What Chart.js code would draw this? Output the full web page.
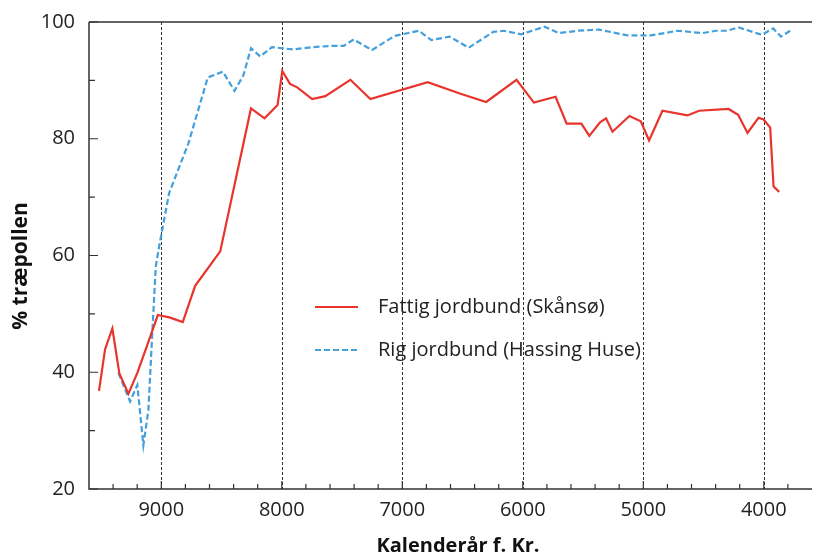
<!DOCTYPE html>
<html>
<head>
<meta charset="utf-8">
<script src="https://cdn.jsdelivr.net/npm/chart.js@4.4.1/dist/chart.umd.min.js"></script>
<style>
  html, body { margin: 0; padding: 0; background: #fff; }
  #chart { display: block; }
</style>
</head>
<body>
<canvas id="chart" width="819" height="555"></canvas>
<script>
// ── Data ──────────────────────────────────────────────────────────
const fattigYears = [9517, 9467, 9406, 9348, 9273, 9199, 9121, 9029, 8933, 8822, 8719, 8511,
  8256, 8143, 8035, 7996, 7932, 7872, 7748, 7639, 7431, 7265, 6789, 6517, 6304, 6052, 5908,
  5728, 5636, 5514, 5448, 5359, 5309, 5256, 5115, 5021, 4952, 4841, 4634, 4537, 4293, 4213,
  4135, 4044, 4002, 3947, 3919, 3872];
const fattigPct = [36.8, 43.9, 47.5, 39.8, 36.3, 39.9, 44.4, 49.8, 49.4, 48.6, 54.8, 60.7,
  85.2, 83.5, 85.8, 91.6, 89.4, 88.8, 86.8, 87.3, 90.1, 86.8, 89.7, 87.7, 86.3, 90.1, 86.2,
  87.2, 82.6, 82.6, 80.5, 82.8, 83.5, 81.2, 83.9, 83.0, 79.7, 84.8, 84.0, 84.8, 85.1, 84.1,
  81.0, 83.6, 83.3, 81.9, 71.8, 70.9];

const rigYears = [9356, 9259, 9199, 9149, 9107, 9079, 9046, 9016, 8935, 8775, 8614, 8489,
  8393, 8318, 8256, 8179, 8082, 7994, 7910, 7736, 7597, 7487, 7404, 7251, 7065, 6863, 6758,
  6608, 6448, 6245, 6157, 6013, 5820, 5700, 5547, 5368, 5132, 4938, 4716, 4508, 4398, 4301,
  4213, 4016, 3922, 3858, 3781];
const rigPct = [39.9, 35.0, 37.8, 27.5, 33.5, 45.0, 58.1, 61.8, 70.7, 79.2, 90.5, 91.5,
  88.2, 90.9, 95.5, 94.1, 95.7, 95.5, 95.3, 95.7, 95.9, 95.9, 97.0, 95.2, 97.6, 98.5, 96.9,
  97.5, 95.6, 98.3, 98.5, 97.9, 99.2, 98.1, 98.5, 98.7, 97.7, 97.7, 98.5, 98.1, 98.5, 98.5,
  99.1, 97.8, 98.9, 97.5, 98.5];

const xTicks = [9000, 8000, 7000, 6000, 5000, 4000];
const xTickLabels = ["9000", "8000", "7000", "6000", "5000", "4000"];
const xMinorTicks = [9400, 9200, 8800, 8600, 8400, 8200, 7800, 7600, 7400, 7200, 6800, 6600,
  6400, 6200, 5800, 5600, 5400, 5200, 4800, 4600, 4400, 4200, 3800];
const yTicks = [20, 40, 60, 80, 100];
const yTickLabels = ["20", "40", "60", "80", "100"];
const yMinorTicks = [30, 50, 70, 90];

const seriesLabels = ["Fattig jordbund (Skånsø)", "Rig jordbund (Hassing Huse)"];
const RED  = "#e8342c";
const BLUE = "#43a0dd";
const INK  = "#222";
const FONT = "'Open Sans', 'Noto Sans', sans-serif";

// ── Axis frame, ticks, dotted year lines, titles and legend ──────
const framePlugin = {
  id: "frame",
  beforeDatasetsDraw(chart) {
    const { ctx, chartArea: a, scales: { x } } = chart;
    ctx.save();
    // dashed vertical year lines
    ctx.strokeStyle = "#333";
    ctx.lineWidth = 1;
    ctx.setLineDash([3, 2]);
    xTicks.forEach(v => {
      const px = Math.round(x.getPixelForValue(v)) + 0.5;
      ctx.beginPath(); ctx.moveTo(px, a.top); ctx.lineTo(px, a.bottom); ctx.stroke();
    });
    ctx.setLineDash([]);
    ctx.restore();
  },
  afterDraw(chart) {
    const { ctx, chartArea: a, scales: { x, y } } = chart;
    ctx.save();
    // axis lines: left, bottom, top
    ctx.strokeStyle = "#333";
    ctx.lineWidth = 1.5;
    ctx.beginPath();
    ctx.moveTo(a.left, a.top); ctx.lineTo(a.left, a.bottom); ctx.lineTo(a.right, a.bottom);
    ctx.moveTo(a.left, a.top); ctx.lineTo(a.right, a.top);
    ctx.stroke();

    // inward tick marks
    ctx.lineWidth = 1.2;
    ctx.beginPath();
    yTicks.forEach(v => { const py = y.getPixelForValue(v); ctx.moveTo(a.left, py); ctx.lineTo(a.left + 9, py); });
    yMinorTicks.forEach(v => { const py = y.getPixelForValue(v); ctx.moveTo(a.left, py); ctx.lineTo(a.left + 6, py); });
    xTicks.forEach(v => { const px = x.getPixelForValue(v); ctx.moveTo(px, a.bottom); ctx.lineTo(px, a.bottom - 8); });
    xMinorTicks.forEach(v => { const px = x.getPixelForValue(v); ctx.moveTo(px, a.bottom); ctx.lineTo(px, a.bottom - 5); });
    ctx.stroke();

    // tick labels
    ctx.fillStyle = INK;
    ctx.font = "20px " + FONT;
    ctx.textAlign = "center";
    ctx.textBaseline = "middle";
    xTicks.forEach((v, i) => ctx.fillText(xTickLabels[i], x.getPixelForValue(v), a.bottom + 21));
    ctx.textAlign = "right";
    yTicks.forEach((v, i) => ctx.fillText(yTickLabels[i], a.left - 14, y.getPixelForValue(v)));

    // axis titles
    ctx.textAlign = "center";
    ctx.fillStyle = "#111";
    ctx.font = "bold 20px " + FONT;
    ctx.fillText("Kalenderår f. Kr.", 458, 546);
    ctx.translate(21, 266);
    ctx.rotate(-Math.PI / 2);
    ctx.font = "bold 21px " + FONT;
    ctx.fillText("% træpollen", 0, 0);
    ctx.setTransform(1, 0, 0, 1, 0, 0);

    // legend inside the plot
    const rows = [
      { label: seriesLabels[0], color: RED, dash: [], y: 307 },
      { label: seriesLabels[1], color: BLUE, dash: [6, 3], y: 350 }
    ];
    ctx.font = "20px " + FONT;
    ctx.textAlign = "left";
    rows.forEach(r => {
      ctx.strokeStyle = r.color;
      ctx.lineWidth = 2;
      ctx.setLineDash(r.dash);
      ctx.beginPath(); ctx.moveTo(315, r.y); ctx.lineTo(358, r.y); ctx.stroke();
      ctx.setLineDash([]);
      ctx.fillStyle = INK;
      ctx.fillText(r.label, 378, r.y);
    });
    ctx.restore();
  }
};

const ctx = document.getElementById("chart").getContext("2d");
new Chart(ctx, {
  type: "line",
  data: {
    datasets: [
      {
        label: seriesLabels[0],
        data: fattigYears.map((yr, i) => ({ x: yr, y: fattigPct[i] })),
        borderColor: RED,
        borderWidth: 2.2,
        pointRadius: 0,
        tension: 0,
        fill: false
      },
      {
        label: seriesLabels[1],
        data: rigYears.map((yr, i) => ({ x: yr, y: rigPct[i] })),
        borderColor: BLUE,
        borderWidth: 2.2,
        borderDash: [6, 3],
        pointRadius: 0,
        tension: 0,
        fill: false
      }
    ]
  },
  options: {
    responsive: false,
    animation: false,
    devicePixelRatio: 1,
    layout: { padding: { top: 22, right: 7, left: 0, bottom: 0 } },
    plugins: {
      legend: { display: false },
      tooltip: { enabled: false }
    },
    scales: {
      x: {
        type: "linear",
        reverse: true,
        min: 3600,
        max: 9600,
        afterBuildTicks: s => { s.ticks = xTicks.map(v => ({ value: v })); },
        afterFit: s => { s.height = 66; },
        grid: { display: false, drawTicks: false },
        border: { display: false },
        ticks: { display: false }
      },
      y: {
        min: 20,
        max: 100,
        afterBuildTicks: s => { s.ticks = yTicks.map(v => ({ value: v })); },
        afterFit: s => { s.width = 89; },
        grid: { display: false, drawTicks: false },
        border: { display: false },
        ticks: { display: false }
      }
    }
  },
  plugins: [framePlugin]
});
</script>
</body>
</html>
